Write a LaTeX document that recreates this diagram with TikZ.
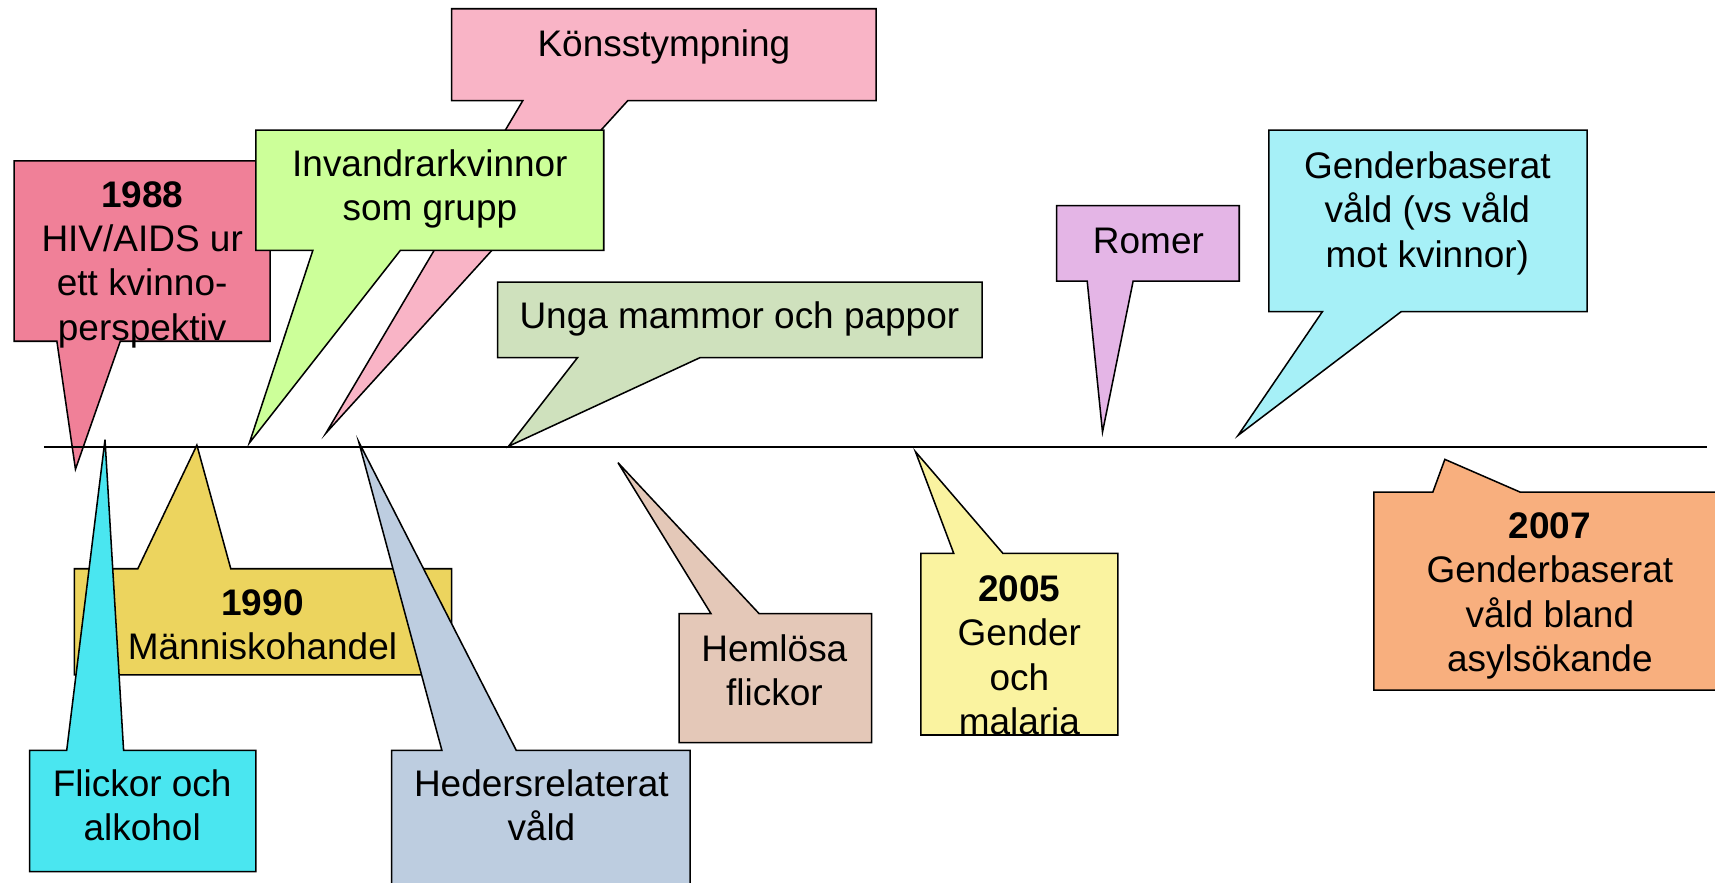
\documentclass[tikz,border=0pt]{standalone}
\usepackage{fontspec}
\setmainfont{Liberation Sans}
\usepackage{tikz}

\definecolor{cHiv}{RGB}{240,128,152}
\definecolor{cKons}{RGB}{249,180,198}
\definecolor{cInv}{RGB}{204,255,153}
\definecolor{cUnga}{RGB}{207,225,189}
\definecolor{cRomer}{RGB}{228,181,230}
\definecolor{cGbv}{RGB}{166,240,247}
\definecolor{cHandel}{RGB}{236,212,94}
\definecolor{cFlick}{RGB}{74,230,240}
\definecolor{cHeder}{RGB}{189,205,224}
\definecolor{cHeml}{RGB}{228,200,184}
\definecolor{cMal}{RGB}{250,243,160}
\definecolor{cAsyl}{RGB}{248,175,126}

\tikzset{
	bubble/.style={draw=black, line width=0.7pt, line join=miter},
	txt/.style={align=center, inner sep=0pt, font=\fontsize{16.9}{20.3}\selectfont},
	axis/.style={draw=black, line width=0.9pt}
}

\begin{document}
\begin{tikzpicture}
				\begin{scope}[x=0.5pt, y=-0.5pt]
					\clip (0,0) rectangle (1568,807);
					\useasboundingbox (0,0) rectangle (1568,807);
					
					\coordinate (tipKons) at (298,396);
					\coordinate (tipHiv) at (69,429);
					\coordinate (tipInv) at (228,405);
					\coordinate (tipUnga) at (465,408);
					\coordinate (tipRomer) at (1008,395);
					\coordinate (tipGbv) at (1132,398);
					\coordinate (tipHandel) at (180,407);
					\coordinate (tipFlick) at (96,402);
					\coordinate (tipHeder) at (328,404);
					\coordinate (tipHeml) at (565,423);
					\coordinate (tipMal) at (837,413);
					\coordinate (tipAsyl) at (1321,420);
					\coordinate (axisL) at (40,409);
					\coordinate (axisR) at (1561,409);
					
					% above the line
					\filldraw[bubble, fill=cKons] (413,8) -- (801,8) -- (801,92) -- (574,92) -- (tipKons) -- (478,92) -- (413,92) -- cycle;
					\node[txt] (kons) at (607,43) {Könsstympning};
					
					\filldraw[bubble, fill=cHiv] (13,147) -- (247,147) -- (247,312) -- (110,312) -- (tipHiv) -- (52,312) -- (13,312) -- cycle;
					\node[txt] (hiv) at (130,242) {\textbf{1988}\\HIV/AIDS ur\\ett kvinno-\\perspektiv};
					
					\filldraw[bubble, fill=cInv] (234,119) -- (552,119) -- (552,229) -- (366,229) -- (tipInv) -- (286,229) -- (234,229) -- cycle;
					\node[txt] (inv) at (393,173) {Invandrarkvinnor\\som grupp};
					
					\filldraw[bubble, fill=cUnga] (455,258) -- (898,258) -- (898,327) -- (640,327) -- (tipUnga) -- (528,327) -- (455,327) -- cycle;
					\node[txt] (unga) at (676,292) {Unga mammor och pappor};
					
					\filldraw[bubble, fill=cRomer] (966,188) -- (1133,188) -- (1133,257) -- (1036,257) -- (tipRomer) -- (994,257) -- (966,257) -- cycle;
					\node[txt] (romer) at (1050,220) {Romer};
					
					\filldraw[bubble, fill=cGbv] (1160,119) -- (1451,119) -- (1451,285) -- (1281,285) -- (tipGbv) -- (1209,285) -- (1160,285) -- cycle;
					\node[txt] (gbv) at (1305,195) {Genderbaserat\\våld (vs våld\\mot kvinnor)};
					
					% the line
					\draw[axis] (axisL) -- (axisR);
					
					% below the line
					\filldraw[bubble, fill=cHandel] (68,520) -- (126,520) -- (tipHandel) -- (211,520) -- (413,520) -- (413,617) -- (68,617) -- cycle;
					\node[txt] (handel) at (240,571) {\textbf{1990}\\Människohandel};
					
					\filldraw[bubble, fill=cFlick] (27,686) -- (61,686) -- (tipFlick) -- (113,686) -- (234,686) -- (234,797) -- (27,797) -- cycle;
					\node[txt] (flick) at (130,736) {Flickor och\\alkohol};
					
					\filldraw[bubble, fill=cHeder] (358,686) -- (404,686) -- (tipHeder) -- (472,686) -- (631,686) -- (631,830) -- (358,830) -- cycle;
					\node[txt] (heder) at (495,736) {Hedersrelaterat\\våld};
					
					\filldraw[bubble, fill=cHeml] (621,561) -- (650,561) -- (tipHeml) -- (694,561) -- (797,561) -- (797,679) -- (621,679) -- cycle;
					\node[txt] (heml) at (708,613) {Hemlösa\\flickor};
					
					\filldraw[bubble, fill=cMal] (842,506) -- (872,506) -- (tipMal) -- (917,506) -- (1022,506) -- (1022,672) -- (842,672) -- cycle;
					\node[txt] (mal) at (932,599) {\textbf{2005}\\Gender\\och\\malaria};
					
					\filldraw[bubble, fill=cAsyl] (1256,450) -- (1310,450) -- (tipAsyl) -- (1390,450) -- (1600,450) -- (1600,631) -- (1256,631) -- cycle;
					\node[txt] (asyl) at (1417,545) {\textbf{2007}\\Genderbaserat\\våld bland\\asylsökande};
				\end{scope}
			\end{tikzpicture}
\end{document}
